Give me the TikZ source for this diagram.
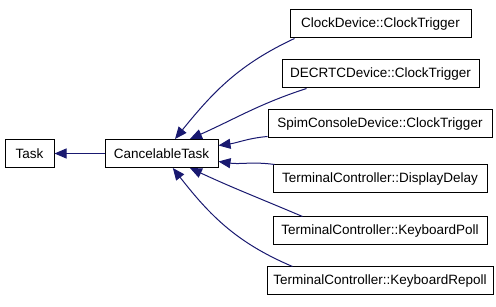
\documentclass[tikz,border=0pt]{standalone}
\usepackage{fontspec}
\setmainfont{Liberation Sans}
\usetikzlibrary{arrows.meta,positioning,calc}
\definecolor{edgeblue}{RGB}{25,25,112}

\begin{document}
\begin{tikzpicture}[
    x=1pt, y=1pt,
    cls/.style={rectangle, draw, line width=1pt, minimum height=28pt, inner xsep=0pt, font=\fontsize{13.5}{16}\selectfont},
    inherit/.style={-{Triangle[length=12pt,width=10pt]}, line width=1pt, draw=edgeblue}
]
\useasboundingbox (0,0) rectangle (496,307);
% base classes
\node[cls, minimum width=113pt] (cancel) at (161.5,153.5) {CancelableTask};
\node[cls, minimum width=49pt, left=50pt of cancel] (task) {Task};
% derived classes
\node[cls, minimum width=181pt] (clock) at (380.5,283) {ClockDevice::ClockTrigger};
\node[cls, minimum width=197pt] (decrtc) at (380.5,233) {DECRTCDevice::ClockTrigger};
\node[cls, minimum width=224pt] (spim) at (380,183) {SpimConsoleDevice::ClockTrigger};
\node[cls, minimum width=214pt] (display) at (380,128) {TerminalController::DisplayDelay};
\node[cls, minimum width=214pt] (kpoll) at (380,76) {TerminalController::KeyboardPoll};
\node[cls, minimum width=226pt] (krepoll) at (380,26) {TerminalController::KeyboardRepoll};
\draw[inherit] (cancel) -- (task);
\draw[inherit] ($(clock.south west)+(5,0)$) to[out=205,in=51] (cancel.47);
\draw[inherit] ($(decrtc.south west)+(25,0)$) to[out=198,in=24] (cancel.27);
\draw[inherit] ($(spim.south west)+(0,2)$) to[out=185,in=8] (cancel.8);
\draw[inherit] ($(display.north west)+(2,0)$) to[out=172,in=-8] (cancel.-8);
\draw[inherit] ($(kpoll.north west)+(30,0)$) to[out=157,in=-25] (cancel.-27);
\draw[inherit] ($(krepoll.north west)+(26,0)$) to[out=157,in=-52] (cancel.-52);
\end{tikzpicture}
\end{document}
